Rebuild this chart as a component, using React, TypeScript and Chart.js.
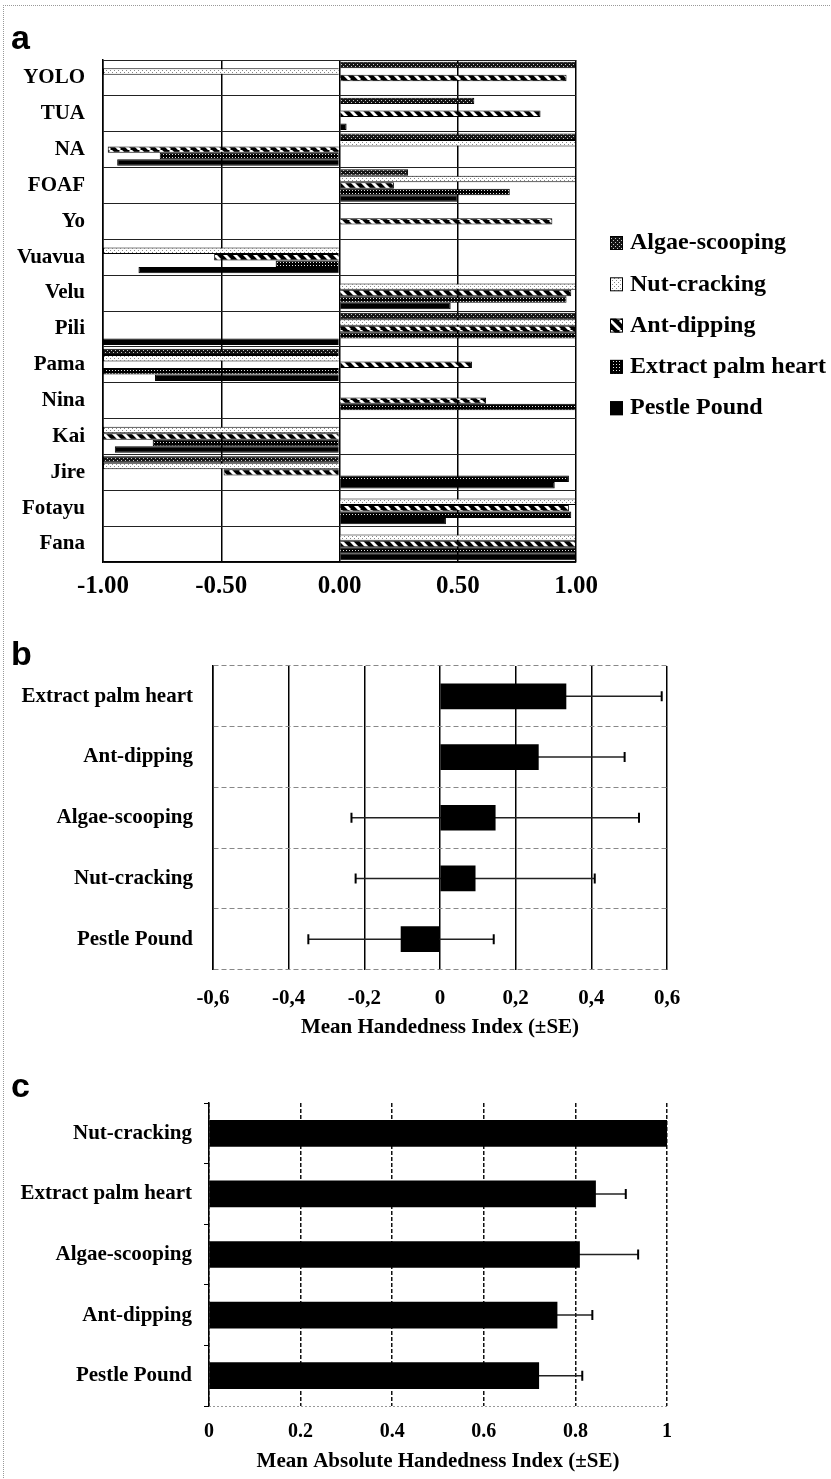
import React, { useEffect, useRef } from 'react';
import { Chart, registerables } from 'chart.js';

Chart.register(...registerables);

const SERIF = '"Liberation Serif", "Times New Roman", Times, serif';
const SANS = '"Liberation Sans", Arial, sans-serif';
Chart.defaults.font.family = SERIF;

// ---------- Panel a: handedness index per individual ----------
const individuals = ['YOLO', 'TUA', 'NA', 'FOAF', 'Yo', 'Vuavua', 'Velu', 'Pili', 'Pama', 'Nina', 'Kai', 'Jire', 'Fotayu', 'Fana'];
const taskNames = ['Algae-scooping', 'Nut-cracking', 'Ant-dipping', 'Extract palm heart', 'Pestle Pound'];
const algaeScooping = [1.0, 0.57, 1.0, 0.29, null, null, null, 1.0, -1.0, null, null, -1.0, null, null];
const nutCracking = [-1, null, 1, 1, null, -1, 1, 1, -1, null, -1, -1, 1, 1];
const antDipping = [0.96, 0.85, -0.98, 0.23, 0.9, -0.53, 0.98, 1.0, 0.56, 0.62, -1.0, -0.49, 0.97, 1.0];
const extractPalmHeart = [null, null, -0.76, 0.72, null, -0.27, 0.96, 1.0, -1.0, 1.0, -0.79, 0.97, 0.98, 1.0];
const pestlePound = [null, 0.03, -0.94, 0.5, null, -0.85, 0.47, -1.0, -0.78, null, -0.95, 0.91, 0.45, 1.0];
const aTicks = [-1, -0.5, 0, 0.5, 1];

// ---------- Panel b: mean handedness index ----------
const bTasks = ['Extract palm heart', 'Ant-dipping', 'Algae-scooping', 'Nut-cracking', 'Pestle Pound'];
const bMeans = [0.333, 0.26, 0.146, 0.093, -0.103];
const bSE = [0.253, 0.228, 0.38, 0.316, 0.245];
const bTicks = [-0.6, -0.4, -0.2, 0, 0.2, 0.4, 0.6];
const bTitle = 'Mean Handedness Index (±SE)';

// ---------- Panel c: mean absolute handedness index ----------
const cTasks = ['Nut-cracking', 'Extract palm heart', 'Algae-scooping', 'Ant-dipping', 'Pestle Pound'];
const cMeans = [1.0, 0.844, 0.809, 0.76, 0.72];
const cSE = [0, 0.066, 0.128, 0.077, 0.095];
const cTicks = [0, 0.2, 0.4, 0.6, 0.8, 1];
const cTitle = 'Mean Absolute Handedness Index (±SE)';

function makeFill(ctx: CanvasRenderingContext2D, kind: string): any {
  if (kind === 'solid') return '#000';
  const t = document.createElement('canvas');
  const g = t.getContext('2d')!;
  if (kind === 'algae') {
    t.width = 4; t.height = 4;
    g.fillStyle = '#151515'; g.fillRect(0, 0, 4, 4);
    g.fillStyle = '#c8c8c8'; g.fillRect(1, 0, 1, 1); g.fillRect(3, 2, 1, 1);
  } else if (kind === 'nut') {
    t.width = 4; t.height = 4;
    g.fillStyle = '#fff'; g.fillRect(0, 0, 4, 4);
    g.fillStyle = '#888'; g.fillRect(0, 0, 1, 1); g.fillRect(2, 2, 1, 1);
  } else if (kind === 'ant') {
    t.width = 10; t.height = 10;
    g.fillStyle = '#000'; g.fillRect(0, 0, 10, 10);
    g.strokeStyle = '#fff'; g.lineWidth = 3;
    g.beginPath();
    [-10, 0, 10].forEach((k) => { g.moveTo(k, 0); g.lineTo(k + 10, 10); });
    g.stroke();
  } else if (kind === 'extract') {
    t.width = 3; t.height = 3;
    g.fillStyle = '#000'; g.fillRect(0, 0, 3, 3);
    g.fillStyle = '#e6e6e6'; g.fillRect(1, 1, 1, 1);
  }
  return ctx.createPattern(t, 'repeat');
}

const fixTicks = (vals: number[]) => (s: any) => { s.ticks = vals.map((v) => ({ value: v })); };

const axisTitle = (text: string, dy: number, size: number) => ({
  id: 'axisTitle',
  afterDraw(chart: any) {
    const { ctx, chartArea } = chart;
    ctx.save();
    ctx.font = `bold ${size}px ${SERIF}`;
    ctx.fillStyle = '#000';
    ctx.textAlign = 'center';
    ctx.textBaseline = 'middle';
    ctx.fillText(text, (chartArea.left + chartArea.right) / 2, chartArea.bottom + dy);
    ctx.restore();
  },
});

// error bars are drawn before the bars so the part inside a bar is hidden, as in the reference
const errorBars = (se: number[]) => ({
  id: 'errorBars',
  beforeDatasetsDraw(chart: any) {
    const ctx = chart.ctx;
    const xs = chart.scales.x;
    const meta = chart.getDatasetMeta(0);
    const data = chart.data.datasets[0].data;
    ctx.save();
    meta.data.forEach((bar: any, i: number) => {
      if (!se[i]) return;
      const v = data[i] as number;
      const x1 = xs.getPixelForValue(v - se[i]);
      const x2 = xs.getPixelForValue(v + se[i]);
      const y = bar.y;
      ctx.strokeStyle = '#222';
      ctx.lineWidth = 1.5;
      ctx.beginPath(); ctx.moveTo(x1, y); ctx.lineTo(x2, y); ctx.stroke();
      ctx.strokeStyle = '#000';
      ctx.lineWidth = 2;
      ctx.beginPath();
      ctx.moveTo(x1, y - 5); ctx.lineTo(x1, y + 5);
      ctx.moveTo(x2, y - 5); ctx.lineTo(x2, y + 5);
      ctx.stroke();
    });
    ctx.restore();
  },
});

const aLegend = {
  id: 'aLegend',
  afterDraw(chart: any) {
    const ctx = chart.ctx;
    ctx.save();
    ctx.font = `bold 24px ${SERIF}`;
    ctx.textBaseline = 'middle';
    ctx.textAlign = 'left';
    chart.data.datasets.forEach((ds: any, i: number) => {
      const y = 243 + i * 41.3;
      ctx.fillStyle = ds.backgroundColor;
      ctx.fillRect(610, y - 7, 13, 14);
      ctx.strokeStyle = '#000';
      ctx.lineWidth = 1;
      ctx.strokeRect(610.5, y - 6.5, 12, 13);
      ctx.fillStyle = '#000';
      ctx.fillText(ds.label, 630, y);
    });
    ctx.restore();
  },
};

const bottomDotted = {
  id: 'bottomDotted',
  afterDraw(chart: any) {
    const { ctx, chartArea } = chart;
    ctx.save();
    ctx.strokeStyle = '#999';
    ctx.lineWidth = 1;
    ctx.setLineDash([2, 2]);
    ctx.beginPath();
    ctx.moveTo(chartArea.left, chartArea.bottom + 0.5);
    ctx.lineTo(chartArea.right, chartArea.bottom + 0.5);
    ctx.stroke();
    ctx.restore();
  },
};

function buildA(ctx: CanvasRenderingContext2D): any {
  const kinds = ['algae', 'nut', 'ant', 'extract', 'solid'];
  const series = [algaeScooping, nutCracking, antDipping, extractPalmHeart, pestlePound];
  return {
    type: 'bar',
    data: {
      labels: individuals,
      datasets: series.map((d, i) => ({
        label: taskNames[i],
        data: d,
        backgroundColor: makeFill(ctx, kinds[i]),
        borderColor: '#000',
        borderWidth: 1,
        categoryPercentage: 0.9,
        barPercentage: 1.0,
      })),
    },
    options: {
      indexAxis: 'y',
      responsive: false,
      animation: false,
      devicePixelRatio: 1,
      layout: { padding: { left: 0, right: 255, top: 60, bottom: 0 } },
      plugins: { legend: { display: false }, tooltip: { enabled: false } },
      scales: {
        x: {
          min: -1, max: 1,
          afterBuildTicks: fixTicks(aTicks),
          afterFit: (s: any) => { s.height = 58; },
          ticks: {
            callback: (v: any) => Number(v).toFixed(2),
            font: { family: SERIF, size: 25, weight: 'bold' },
            color: '#000', padding: 10, maxRotation: 0, autoSkip: false,
          },
          grid: { color: '#000', lineWidth: 1.5, drawTicks: false },
          border: { color: '#000', width: 1.5 },
        },
        y: {
          afterFit: (s: any) => { s.width = 103; },
          ticks: { font: { family: SERIF, size: 21, weight: 'bold' }, color: '#000', padding: 18, autoSkip: false },
          grid: { color: '#222', lineWidth: 1, drawTicks: false, offset: true },
          border: { color: '#000', width: 1.5 },
        },
      },
    },
    plugins: [aLegend],
  };
}

const commaFmt = (v: any) => {
  const r = Math.round(Number(v) * 10) / 10;
  return r === 0 ? '0' : String(r).replace('.', ',');
};

function buildB(): any {
  return {
    type: 'bar',
    data: {
      labels: bTasks,
      datasets: [{ data: bMeans, backgroundColor: '#000', borderWidth: 0, barThickness: 25 }],
    },
    options: {
      indexAxis: 'y',
      responsive: false,
      animation: false,
      devicePixelRatio: 1,
      layout: { padding: { left: 0, right: 164, top: 46, bottom: 0 } },
      plugins: { legend: { display: false }, tooltip: { enabled: false } },
      scales: {
        x: {
          min: -0.6, max: 0.6,
          afterBuildTicks: fixTicks(bTicks),
          afterFit: (s: any) => { s.height = 80.5; },
          ticks: { callback: commaFmt, font: { family: SERIF, size: 21, weight: 'bold' }, color: '#000', padding: 16, maxRotation: 0, autoSkip: false },
          grid: { color: '#000', lineWidth: 1.5, drawTicks: false },
          border: { display: false },
        },
        y: {
          afterFit: (s: any) => { s.width = 213; },
          ticks: { font: { family: SERIF, size: 21, weight: 'bold' }, color: '#000', padding: 20, autoSkip: false },
          grid: { color: '#888', lineWidth: 1, drawTicks: false, offset: true },
          border: { display: true, color: '#000', width: 1.5, dash: [5, 3] },
        },
      },
    },
    plugins: [errorBars(bSE), axisTitle(bTitle, 58.5, 21)],
  };
}

const dotFmt = (v: any) => {
  const r = Math.round(Number(v) * 10) / 10;
  return String(r);
};

function buildC(): any {
  return {
    type: 'bar',
    data: {
      labels: cTasks,
      datasets: [{ data: cMeans, backgroundColor: '#000', borderWidth: 0, barThickness: 26 }],
    },
    options: {
      indexAxis: 'y',
      responsive: false,
      animation: false,
      devicePixelRatio: 1,
      layout: { padding: { left: 0, right: 164, top: 53, bottom: 0 } },
      plugins: { legend: { display: false }, tooltip: { enabled: false } },
      scales: {
        x: {
          min: 0, max: 1,
          afterBuildTicks: fixTicks(cTicks),
          afterFit: (s: any) => { s.height = 73; },
          ticks: { callback: dotFmt, font: { family: SERIF, size: 20, weight: 'bold' }, color: '#000', padding: 14, maxRotation: 0, autoSkip: false },
          grid: { color: '#111', lineWidth: 1.5, drawTicks: false },
          border: { display: false, dash: [4, 2] },
        },
        y: {
          afterFit: (s: any) => { s.width = 209; },
          ticks: { font: { family: SERIF, size: 21, weight: 'bold' }, color: '#000', padding: 12, autoSkip: false },
          grid: { color: '#000', lineWidth: 1, drawOnChartArea: false, drawTicks: true, tickLength: 5, offset: true },
          border: { display: true, color: '#000', width: 1.5 },
        },
      },
    },
    plugins: [errorBars(cSE), bottomDotted, axisTitle(cTitle, 56, 21)],
  };
}

function ChartCanvas({ top, height, build }: { top: number; height: number; build: (ctx: CanvasRenderingContext2D) => any }) {
  const ref = useRef<HTMLCanvasElement>(null);
  useEffect(() => {
    const canvas = ref.current!;
    const ctx = canvas.getContext('2d')!;
    const chart = new Chart(canvas, build(ctx));
    return () => chart.destroy();
  }, []);
  return (
    <canvas
      ref={ref}
      width={831}
      height={height}
      style={{ position: 'absolute', left: 0, top, width: 831, height, display: 'block' }}
    />
  );
}

const letterStyle = (top: number): React.CSSProperties => ({
  position: 'absolute',
  left: 11,
  top,
  fontFamily: SANS,
  fontWeight: 'bold',
  fontSize: 34,
  lineHeight: '34px',
  color: '#000',
});

export default function App() {
  return (
    <div style={{ position: 'absolute', left: 0, top: 0, width: 831, height: 1479, background: '#fff', overflow: 'hidden' }}>
      <div style={{ position: 'absolute', left: 3, top: 5, width: 828, height: 1474, borderTop: '1px dotted #999', borderLeft: '1px dotted #999' }} />
      <ChartCanvas top={0} height={620} build={buildA} />
      <ChartCanvas top={620} height={430} build={() => buildB()} />
      <ChartCanvas top={1050} height={429} build={() => buildC()} />
      <div style={letterStyle(20)}>a</div>
      <div style={letterStyle(636)}>b</div>
      <div style={letterStyle(1068)}>c</div>
    </div>
  );
}
